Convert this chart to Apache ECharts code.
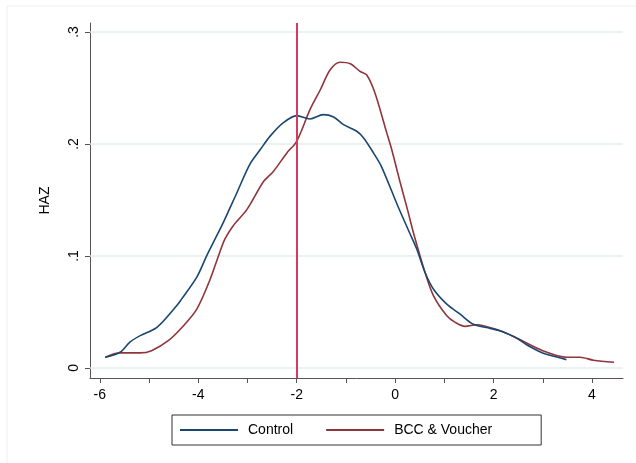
<!DOCTYPE html>
<html>
<head>
<meta charset="utf-8">
<script src="https://cdn.jsdelivr.net/npm/echarts@6/dist/echarts.min.js"></script>
<style>
  html, body { margin: 0; padding: 0; background: #fff; }
  #main { width: 636px; height: 463px; }
</style>
</head>
<body>
<div id="main"></div>
<script>
// HAZ 的核密度曲线，数值从图上读出 [x, 密度]
const seriesNames = ['Control', 'BCC & Voucher'];
const cutoff = -2;

const controlHaz = [
  [-5.89, 0.0095], [-5.59, 0.014], [-5.39, 0.023], [-5.18, 0.0288], [-4.84, 0.0362],
  [-4.44, 0.0555], [-4.34, 0.0614], [-4.03, 0.081], [-3.83, 0.100], [-3.66, 0.115],
  [-3.49, 0.130], [-3.22, 0.156], [-2.95, 0.182], [-2.74, 0.195], [-2.54, 0.207],
  [-2.27, 0.219], [-2.0, 0.2253], [-1.73, 0.2223], [-1.46, 0.2262], [-1.25, 0.2241],
  [-1.05, 0.2173], [-0.78, 0.2113], [-0.64, 0.2054], [-0.44, 0.192], [-0.28, 0.180],
  [0.05, 0.145], [0.30, 0.120], [0.44, 0.106], [0.61, 0.085],
  [0.78, 0.0703], [1.05, 0.057], [1.32, 0.048], [1.59, 0.039], [1.93, 0.0353],
  [2.13, 0.0332], [2.44, 0.0273], [2.68, 0.0205], [3.01, 0.0131], [3.22, 0.0104],
  [3.48, 0.0074]
];

const bccVoucherHaz = [
  [-5.89, 0.0095], [-5.59, 0.0134], [-5.18, 0.0134], [-4.95, 0.0154], [-4.61, 0.0243],
  [-4.30, 0.0377], [-4.03, 0.0525], [-3.76, 0.079], [-3.59, 0.100], [-3.46, 0.115],
  [-3.29, 0.127], [-3.01, 0.1416], [-2.68, 0.166], [-2.47, 0.1757], [-2.20, 0.192],
  [-2.0, 0.2024], [-1.73, 0.2306], [-1.52, 0.2484], [-1.32, 0.2662], [-1.12, 0.273],
  [-0.91, 0.2716], [-0.71, 0.2647], [-0.58, 0.2618], [-0.41, 0.2455], [-0.17, 0.2099],
  [-0.07, 0.195], [0.10, 0.166], [0.25, 0.1416], [0.37, 0.121],
  [0.61, 0.085], [0.78, 0.0644], [1.05, 0.0466], [1.22, 0.0407], [1.42, 0.0371],
  [1.66, 0.0386], [2.13, 0.0332], [2.44, 0.0273], [3.01, 0.0152], [3.49, 0.0095],
  [3.76, 0.0095], [4.03, 0.0069], [4.45, 0.0051]
];

// 坐标轴刻度
const xTicks = [-6, -4, -2, 0, 2, 4];
const xAllTicks = [-6, -5, -4, -3, -2, -1, 0, 1, 2, 3, 4];
const yTicks = [0, 0.1, 0.2, 0.3];
const yTickLabels = ['0', '.1', '.2', '.3'];

const font = '"Liberation Sans", Arial, Helvetica, sans-serif';

let myChart = echarts.init(document.getElementById('main'));

let option = {
  animation: false,
  backgroundColor: '#fff',
  color: ['#1a476f', '#90353b'],
  textStyle: { fontFamily: font },

  // 外面那圈很淡的框
  graphic: [{
    type: 'rect',
    shape: { x: 7, y: 6, width: 640, height: 470 },
    style: { fill: 'none', stroke: '#efefef', lineWidth: 1 },
    silent: true
  }],

  grid: { left: 90, top: 23, right: 13, bottom: 85 },

  xAxis: {
    type: 'value',
    min: -6.2,
    max: 4.63,
    axisLine: { show: true, onZero: false, lineStyle: { color: '#555', width: 1 } },
    axisTick: { show: true, length: 5, customValues: xAllTicks, lineStyle: { color: '#555' } },
    axisLabel: {
      customValues: xTicks,
      margin: 10,
      color: '#000',
      fontSize: 14,
      fontFamily: font,
      formatter: v => String(v)
    },
    splitLine: { show: false }
  },

  yAxis: {
    type: 'value',
    min: -0.009,
    max: 0.308,
    name: 'HAZ',
    nameLocation: 'middle',
    nameGap: 38,
    nameRotate: 90,
    nameTextStyle: { color: '#000', fontSize: 14, fontFamily: font },
    axisLine: { show: true, onZero: false, lineStyle: { color: '#555', width: 1 } },
    axisTick: { show: true, length: 5, customValues: yTicks, lineStyle: { color: '#555' } },
    axisLabel: {
      customValues: yTicks,
      rotate: 90,
      margin: 9,
      color: '#000',
      fontSize: 14,
      fontFamily: font,
      formatter: v => yTickLabels[yTicks.findIndex(t => Math.abs(t - v) < 1e-9)]
    },
    splitLine: { show: false }
  },

  legend: {
    data: seriesNames,
    left: 172,
    top: 415,
    orient: 'horizontal',
    icon: 'rect',
    padding: [7, 49, 7, 8],
    itemGap: 33,
    itemWidth: 58,
    itemHeight: 2,
    borderColor: '#333',
    borderWidth: 1,
    textStyle: { color: '#000', fontSize: 14, fontFamily: font, padding: [0, 0, 0, 5], lineHeight: 16 }
  },

  series: [
    {
      name: seriesNames[0],
      type: 'line',
      data: controlHaz,
      symbol: 'none',
      smooth: 0.3,
      lineStyle: { width: 1.6 },
      z: 3,
      markLine: {
        silent: true,
        symbol: 'none',
        label: { show: false },
        lineStyle: { color: '#d23c62', width: 2, type: 'solid' },
        data: [{ xAxis: cutoff }],
        z: 4
      }
    },
    {
      name: seriesNames[1],
      type: 'line',
      data: bccVoucherHaz,
      symbol: 'none',
      smooth: 0.3,
      lineStyle: { width: 1.6 },
      z: 2,
      // 横向网格线，放在 y 刻度处
      markLine: {
        silent: true,
        symbol: 'none',
        label: { show: false },
        lineStyle: { color: '#e4ecef', width: 1.5, type: 'solid' },
        data: yTicks.map(t => ({ yAxis: t })),
        z: 1
      }
    }
  ]
};

myChart.setOption(option);
</script>
</body>
</html>
